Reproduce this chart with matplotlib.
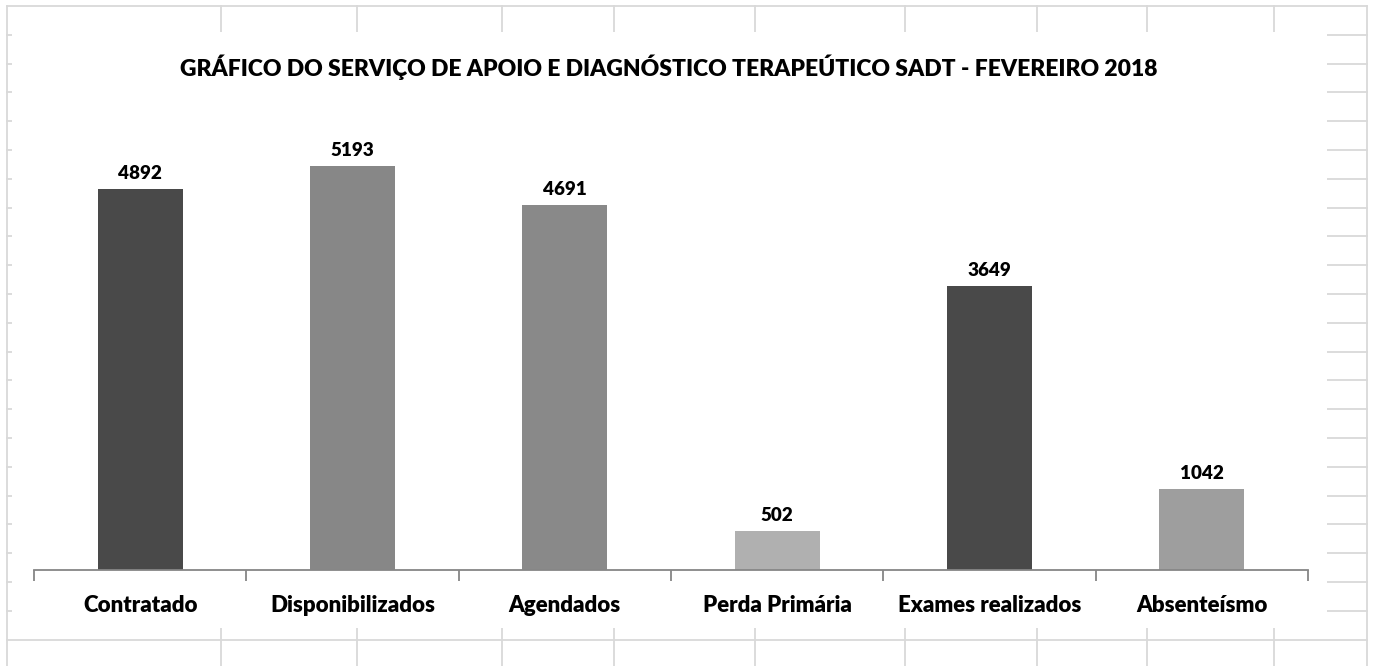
import matplotlib.pyplot as plt
from matplotlib.lines import Line2D
from matplotlib.patches import Rectangle
import numpy as np

plt.rcParams['font.family'] = ['Lato', 'DejaVu Sans']

# Data
categories = ['Contratado', 'Disponibilizados', 'Agendados', 'Perda Primária',
              'Exames realizados', 'Absenteísmo']
values = [4892, 5193, 4691, 502, 3649, 1042]
bar_colors = ['#494949', '#878787', '#898989', '#b0b0b0', '#494949', '#9e9e9e']
title = 'GRÁFICO DO SERVIÇO DE APOIO E DIAGNÓSTICO TERAPEÚTICO SADT - FEVEREIRO 2018'

W, H = 1373, 666
fig = plt.figure(figsize=(W / 100, H / 100), dpi=100)


def fx(px):
    return px / W


def fy(py):
    return 1 - py / H


# spreadsheet grid behind the chart
grid_color = '#d9d9d9'
col_x = [7, 221, 357, 502, 614, 755, 905, 1037, 1147, 1274, 1367]
row_y = [6 + k * 28.8 for k in range(23)]
for x in col_x:
    fig.add_artist(Line2D([fx(x), fx(x)], [fy(6), fy(H)], color=grid_color,
                          lw=1.3, zorder=-2))
for y in row_y:
    fig.add_artist(Line2D([fx(7), fx(1367)], [fy(y), fy(y)], color=grid_color,
                          lw=1.3, zorder=-2))

# white chart area
fig.add_artist(Rectangle((fx(12), fy(628)), fx(1327) - fx(12), fy(32) - fy(628),
                         transform=fig.transFigure, facecolor='white',
                         edgecolor='none', zorder=-1))

fig.text(fx(669), fy(67), title, ha='center', va='center', fontsize=16.5,
         fontweight='heavy', color='black')

ax = fig.add_axes([fx(34), fy(570), fx(1308) - fx(34), fy(103) - fy(570)])
ax.patch.set_visible(False)

x = np.arange(len(categories))
ax.bar(x, values, width=0.4, color=bar_colors, zorder=2)
for xi, v in zip(x, values):
    ax.annotate(str(v), (xi, v), xytext=(0, 7), textcoords='offset pixels',
                ha='center', va='bottom', fontsize=13.6, fontweight='heavy')

ax.set_xlim(-0.5, len(categories) - 0.5)
ax.set_ylim(0, 6000)
ax.set_xticks(x)
ax.set_xticklabels(categories, fontsize=16, fontweight='heavy')
ax.set_xticks(np.arange(-0.5, len(categories)), minor=True)
ax.tick_params(axis='x', which='major', length=0, pad=18)
ax.tick_params(axis='x', which='minor', length=8, width=1.3, color='#868686')
ax.set_yticks([])
for s in ['top', 'right', 'left']:
    ax.spines[s].set_visible(False)
ax.spines['bottom'].set_color('#868686')
ax.spines['bottom'].set_linewidth(1.3)

fig.savefig('out.png', dpi=100, facecolor='white')
